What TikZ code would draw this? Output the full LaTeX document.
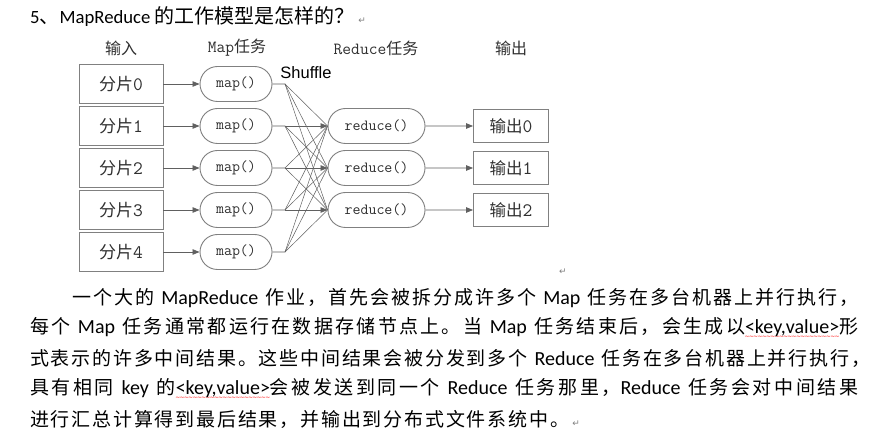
\documentclass[tikz,border=0pt]{standalone}
\usepackage{fontspec}
\usetikzlibrary{shapes.misc,arrows.meta}
\setmainfont{Carlito}
\newfontfamily\cjk{Noto Sans CJK SC}
\newfontfamily\lat{Carlito}
\newfontfamily\symf{DejaVu Sans}
\newfontfamily\arialf{Liberation Sans}
% inter-character glue between CJK characters
\newskip\cjkgap \cjkgap=0pt
\XeTeXinterchartokenstate=1
\newXeTeXintercharclass\cjkcls
\count255="4E00
\loop \XeTeXcharclass\count255=\cjkcls \advance\count255 by 1 \ifnum\count255<"A000 \repeat
\count255="3000
\loop \XeTeXcharclass\count255=\cjkcls \advance\count255 by 1 \ifnum\count255<"3040 \repeat
\count255="FF00
\loop \XeTeXcharclass\count255=\cjkcls \advance\count255 by 1 \ifnum\count255<"FFF0 \repeat
\XeTeXinterchartoks\cjkcls\cjkcls={\hskip\cjkgap\relax}
\newcommand\la[1]{{\lat\fontsize{20}{20}\selectfont #1}}
\newcommand\sk{\hskip 7pt plus 1fil\relax}
\newcommand\mono[1]{{\ttfamily #1}}
\newcommand\retm{{\symf\fontsize{9}{9}\selectfont\color{gray}↵}}
\newsavebox\wavebox
\newcommand\redwave[1]{\sbox\wavebox{#1}\rlap{\lower5pt\hbox to \wd\wavebox{\color{red}\symf\fontsize{6}{6}\selectfont\xleaders\hbox{\kern-0.4pt∼\kern-0.4pt}\hfil}}\usebox\wavebox}
\newcommand\titlefont{\cjk\fontsize{20}{20}\selectfont\cjkgap=0pt\relax}
\newcommand\bodyfont{\cjk\fontsize{19}{19}\selectfont\cjkgap=1.8pt plus 1fil\relax}
\newcommand\lastfont{\cjk\fontsize{19}{19}\selectfont\cjkgap=1.8pt\relax}
\definecolor{boxc}{HTML}{808080}
\definecolor{linec}{HTML}{606060}
\definecolor{txtc}{HTML}{303030}
\tikzset{
  inbox/.style={draw=boxc, line width=0.9pt, minimum width=84pt, minimum height=39pt, inner sep=0pt,
    text=txtc, font=\cjk\fontsize{17}{17}\selectfont},
  mapbox/.style={draw=boxc, line width=0.9pt, rounded rectangle, minimum width=72pt, minimum height=35pt,
    inner sep=0pt, text=txtc, font=\ttfamily\fontsize{15.5}{15.5}\selectfont},
  redbox/.style={mapbox, minimum width=97pt},
  outbox/.style={draw=boxc, line width=0.9pt, minimum width=75pt, minimum height=33pt, inner sep=0pt,
    text=txtc, font=\cjk\fontsize{16.5}{16.5}\selectfont},
  hdr/.style={inner sep=0pt, text=txtc, font=\cjk\fontsize{16}{16}\selectfont},
  arr/.style={draw=linec, line width=0.7pt, -{Triangle[length=7pt,width=5.5pt]}},
  ln/.style={draw=linec, line width=0.6pt},
  thin/.style={draw=linec, line width=0.5pt},
  body/.style={anchor=west, inner sep=0pt, font=\bodyfont}
}
\begin{document}
\begin{tikzpicture}[x=1pt,y=-1pt]
\useasboundingbox (0,0) rectangle (873,435);
\fill[white] (0,0) rectangle (873,435);
% title
\node[anchor=west, inner sep=0pt, font=\titlefont] (title) at (30,17)
  {{\lat\fontsize{18.7}{18.7}\selectfont 5}、{\lat\fontsize{18.7}{18.7}\selectfont MapReduce} 的工作模型是怎样的？\,\retm};
% headers
\node[hdr] (h0) at (121,48) {输入};
\node[hdr] (h1) at (237,48) {{\ttfamily\fontsize{17}{17}\selectfont Map}任务};
\node[hdr] (h2) at (376,48) {{\ttfamily\fontsize{17}{17}\selectfont Reduce}任务};
\node[hdr] (h3) at (511,48) {输出};
\node[inner sep=0pt, font=\arialf\fontsize{16.5}{16.5}\selectfont] (shuf) at (306,73) {Shuffle};
% inputs and maps
\foreach \i in {0,...,4}{
  \node[inbox] (in\i) at (121,{84+42*\i}) {分片\mono{\fontsize{19}{19}\selectfont\i}};
  \node[mapbox] (m\i) at (236,{84+42*\i}) {map()};
  \coordinate (s\i) at (285,{84+42*\i});
  \draw[arr] (in\i) -- (m\i);
  \draw[ln] (m\i) -- (s\i);
}
% reduces and outputs
\foreach \j in {0,1,2}{
  \node[redbox] (r\j) at (376.5,{126+42*\j}) {reduce()};
  \node[outbox] (o\j) at (511,{126+42*\j}) {输出\mono{\fontsize{19}{19}\selectfont\j}};
  \draw[arr] (r\j) -- (o\j);
}
% shuffle lines
\foreach \i in {0,...,4}{
  \foreach \j in {0,1,2}{
    \pgfmathtruncatemacro\k{\j+1}
    \ifnum\i=\k\relax
      \draw[arr] (s\i) -- (r\j.west);
    \else
      \draw[thin] (s\i) -- (r\j.west);
    \fi
  }
}
\node[inner sep=0pt] (ret1) at (563,272) {\retm};
% body text
\node[body] (l1) at (72,298) {\hbox to 786pt{一个大的\sk{}\la{MapReduce}\sk{}作业，首先会被拆分成许多个\sk{}\la{Map}\sk{}任务在多台机器上并行执行，}};
\node[body] (l2) at (30,328) {\hbox to 828pt{每个\sk{}\la{Map}\sk{}任务通常都运行在数据存储节点上。当\sk{}\la{Map}\sk{}任务结束后，会生成以\la{\redwave{<key,value>}}形}};
\node[body] (l3) at (30,358.5) {\hbox to 828pt{式表示的许多中间结果。这些中间结果会被分发到多个\sk{}\la{Reduce}\sk{}任务在多台机器上并行执行，}};
\node[body] (l4) at (30,389) {\hbox to 828pt{具有相同\sk{}\la{key}\sk{}的\la{\redwave{<key,value>}}会被发送到同一个\sk{}\la{Reduce}\sk{}任务那里，\la{Reduce}\sk{}任务会对中间结果}};
\node[body, font=\lastfont] (l5) at (30,419.5) {进行汇总计算得到最后结果，并输出到分布式文件系统中。\,\retm};
\end{tikzpicture}
\end{document}
